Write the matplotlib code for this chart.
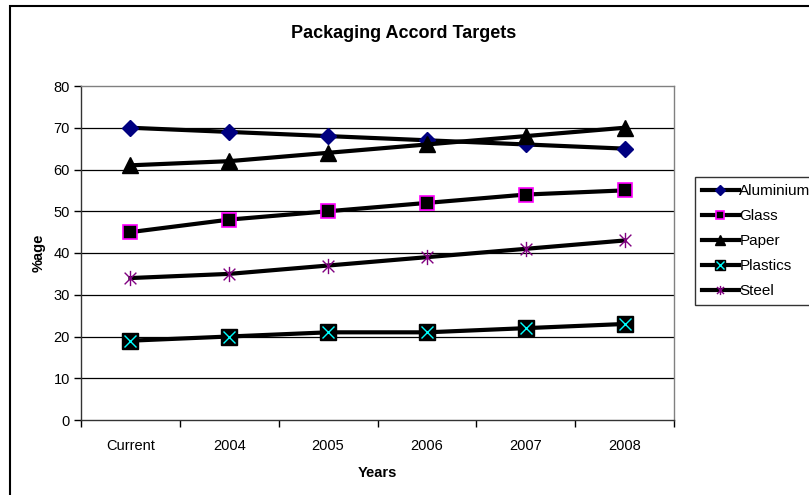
import matplotlib
matplotlib.use("Agg")
import matplotlib.pyplot as plt
from matplotlib.path import Path
from matplotlib.patches import Rectangle
from matplotlib.legend_handler import HandlerTuple

plt.rcParams['font.family'] = ['Liberation Sans', 'DejaVu Sans']

years = ["Current", "2004", "2005", "2006", "2007", "2008"]
aluminium = [70, 69, 68, 67, 66, 65]
glass = [45, 48, 50, 52, 54, 55]
paper = [61, 62, 64, 66, 68, 70]
plastics = [19, 20, 21, 21, 22, 23]
steel = [34, 35, 37, 39, 41, 43]

# asterisk marker: an X with a vertical bar through it
star = Path([(-1, -1), (1, 1), (-1, 1), (1, -1), (0, -1.3), (0, 1.3)],
            [Path.MOVETO, Path.LINETO, Path.MOVETO, Path.LINETO, Path.MOVETO, Path.LINETO])

W, H = 809, 495
fig = plt.figure(figsize=(W / 100, H / 100), dpi=100)
ax = fig.add_axes([81 / W, 1 - 420 / H, (674 - 81) / W, (420 - 86) / H])

x = range(len(years))
lw = 3
l_al, = ax.plot(x, aluminium, color='black', lw=lw, marker='D', ms=8.5,
                mfc='#000080', mec='#000080', zorder=3)
l_gl, = ax.plot(x, glass, color='black', lw=lw, marker='s', ms=9.5,
                mfc='black', mec='#FF00FF', mew=1.2, zorder=3)
l_pa, = ax.plot(x, paper, color='black', lw=lw, marker='^', ms=11,
                mfc='black', mec='black', zorder=3)
l_pl, = ax.plot(x, plastics, color='black', lw=lw, marker='s', ms=11,
                mfc='black', mec='black', zorder=3)
l_plx, = ax.plot(x, plastics, ls='none', marker='x', ms=9, mec='#00FFFF',
                 mew=1.0, zorder=4)
l_st, = ax.plot(x, steel, color='black', lw=lw, marker=star, ms=11,
                mfc='none', mec='#800080', mew=1.0, zorder=3)

fs = 10.5
ax.set_xlim(-0.5, 5.5)
ax.set_ylim(0, 80)
ax.set_yticks(range(0, 81, 10))
ax.set_xticks(list(x))
ax.set_xticklabels(years)
ax.set_xticks([i + 0.5 for i in range(-1, 6)], minor=True)
ax.tick_params(axis='x', which='major', length=0, pad=14, labelsize=fs)
ax.tick_params(axis='x', which='minor', length=5, width=1, direction='out')
ax.tick_params(axis='y', length=5, width=1, direction='out', pad=3, labelsize=fs)

for yv in range(10, 80, 10):
    ax.axhline(yv, color='black', lw=0.9, zorder=1)

ax.spines['top'].set_color('#808080')
ax.spines['right'].set_color('#808080')
ax.spines['left'].set_color('#333333')
ax.spines['bottom'].set_color('#333333')
for s in ax.spines.values():
    s.set_linewidth(1)

ax.set_xlabel('Years', fontsize=fs, fontweight='bold', labelpad=9)
ax.set_ylabel('%age', fontsize=fs, fontweight='bold', labelpad=6)

fig.text(404 / W, 1 - 34 / H, 'Packaging Accord Targets', ha='center', va='center',
         fontsize=13, fontweight='bold')

leg = fig.legend([l_al, l_gl, l_pa, (l_pl, l_plx), l_st],
                 ['Aluminium', 'Glass', 'Paper', 'Plastics', 'Steel'],
                 handler_map={tuple: HandlerTuple(ndivide=1)},
                 loc='upper left', bbox_to_anchor=(695 / W, 1 - 177 / H),
                 fontsize=11, frameon=True, fancybox=False, handlelength=2.4,
                 handletextpad=0.05, borderpad=0.45, labelspacing=0.72,
                 borderaxespad=0, markerscale=0.6)
leg.get_frame().set_edgecolor('black')
leg.get_frame().set_linewidth(1)

# chart-area border around everything
fig.patches.append(Rectangle((10 / W, -0.1), 1.2, 1.1 - 6 / H, transform=fig.transFigure,
                             fill=False, edgecolor='black', lw=1.5))

fig.savefig('out.png', dpi=100)
